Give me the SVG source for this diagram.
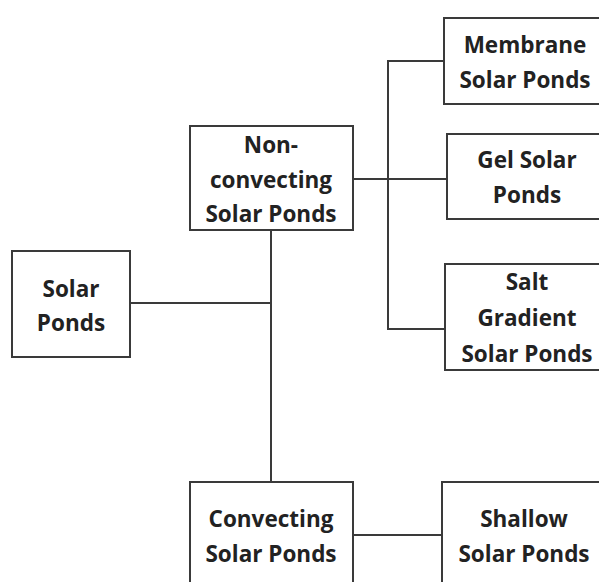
<svg xmlns="http://www.w3.org/2000/svg" width="599" height="582" viewBox="0 0 599 582">
<style>
.box{fill:#fff;stroke:#3a3a3a;stroke-width:2}
.lbl{font-family:"Open Sans","Liberation Sans",sans-serif;font-weight:bold;font-size:22.5px;fill:#222;text-anchor:middle}
.con{fill:none;stroke:#3a3a3a;stroke-width:2}
</style>
<rect width="599" height="582" fill="#fff"/>
<g id="connectors">
<path class="con" d="M130 303H271"/>
<path class="con" d="M271 230V482"/>
<path class="con" d="M353 179H447"/>
<path class="con" d="M444 61H388V329H445"/>
<path class="con" d="M353 535H442"/>
</g>
<g id="solar-ponds">
<rect class="box" x="12" y="251" width="118" height="106"/>
<text class="lbl" x="71" y="297">Solar</text>
<text class="lbl" x="71" y="331">Ponds</text>
</g>
<g id="non-convecting">
<rect class="box" x="190" y="126" width="163" height="104"/>
<text class="lbl" x="271" y="153">Non-</text>
<text class="lbl" x="271" y="188">convecting</text>
<text class="lbl" x="271" y="222">Solar Ponds</text>
</g>
<g id="convecting">
<rect class="box" x="190" y="482" width="163" height="110"/>
<text class="lbl" x="271" y="527">Convecting</text>
<text class="lbl" x="271" y="562">Solar Ponds</text>
</g>
<g id="membrane">
<rect class="box" x="444" y="18" width="164" height="86"/>
<text class="lbl" x="525" y="53">Membrane</text>
<text class="lbl" x="525" y="88">Solar Ponds</text>
</g>
<g id="gel">
<rect class="box" x="447" y="134" width="160" height="85"/>
<text class="lbl" x="527" y="168">Gel Solar</text>
<text class="lbl" x="527" y="203">Ponds</text>
</g>
<g id="salt-gradient">
<rect class="box" x="445" y="264" width="164" height="106"/>
<text class="lbl" x="527" y="290">Salt</text>
<text class="lbl" x="527" y="326">Gradient</text>
<text class="lbl" x="527" y="362">Solar Ponds</text>
</g>
<g id="shallow">
<rect class="box" x="442" y="482" width="164" height="110"/>
<text class="lbl" x="524" y="527">Shallow</text>
<text class="lbl" x="524" y="562">Solar Ponds</text>
</g>
</svg>
